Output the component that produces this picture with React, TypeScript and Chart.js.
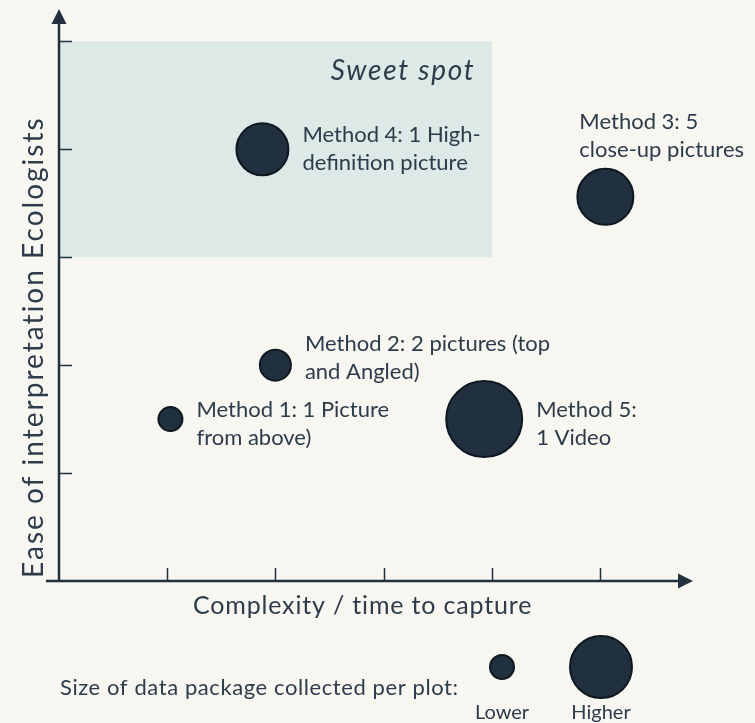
import React, { useEffect, useRef } from "react";
import { Chart, registerables } from "chart.js";

Chart.register(...registerables);

// Methods compared: complexity (x), ease of interpretation (y), size of data package (bubble radius)
const methodLabels: string[][] = [
  ["Method 1: 1 Picture", "from above)"],
  ["Method 2: 2 pictures (top", "and Angled)"],
  ["Method 3: 5", "close-up pictures"],
  ["Method 4: 1 High-", "definition picture"],
  ["Method 5:", "1 Video"],
];
const complexity = [1.03, 2.0, 5.05, 1.88, 3.93];
const ease = [1.5, 2.0, 3.56, 4.0, 1.5];
const packageSize = [12, 15.5, 28, 26, 38];
const labelPlacement = ["right", "right", "above", "right", "right"];
// small vertical nudges (px) applied to each label block
const labelNudge = [5, -7, -2, 0, 5];

const xTicks = [1, 2, 3, 4, 5];
const yTicks = [1, 2, 3, 4, 5];
const xMax = 5.86;
const yMax = 5.3;

const sweetSpotX = [0, 4];
const sweetSpotY = [3, 5];
const sweetSpotLabel = "Sweet spot";

const xTitle = "Complexity / time to capture";
const yTitle = "Ease of interpretation Ecologists";

const legendTitle = "Size of data package collected per plot:";
const legendSizes = [12, 31];
const legendLabels = ["Lower", "Higher"];

const BG = "#f7f6f0";
const INK = "#22313f";
const TEXT = "#2d3b4a";
const BUBBLE = "#20303f";
const BUBBLE_EDGE = "#0f1820";
const SHADE = "#dce9e6";
const FONT = "Lato, 'Noto Sans', sans-serif";

// Draws text stretched with letter spacing so it spans the given width.
function spacedText(ctx: any, text: string, x: number, y: number, width: number) {
  ctx.letterSpacing = "0px";
  const w = ctx.measureText(text).width;
  const gap = Math.max(0, (width - w) / Math.max(1, text.length - 1));
  ctx.letterSpacing = `${gap.toFixed(2)}px`;
  ctx.fillText(text, x, y);
  ctx.letterSpacing = "0px";
}

const decor = {
  id: "decor",
  beforeDatasetsDraw(chart: any) {
    const { ctx, chartArea, scales } = chart;
    const x = scales.x;
    const y = scales.y;
    ctx.save();
    // sweet spot region
    const sx0 = x.getPixelForValue(sweetSpotX[0]);
    const sx1 = x.getPixelForValue(sweetSpotX[1]);
    const sy0 = y.getPixelForValue(sweetSpotY[1]);
    const sy1 = y.getPixelForValue(sweetSpotY[0]);
    ctx.fillStyle = SHADE;
    ctx.fillRect(sx0, sy0, sx1 - sx0, sy1 - sy0);
    ctx.fillStyle = TEXT;
    ctx.font = `italic 28px ${FONT}`;
    ctx.textAlign = "left";
    ctx.textBaseline = "alphabetic";
    spacedText(ctx, sweetSpotLabel, sx1 - 18 - 143, sy0 + 39, 143);

    // axes
    const ox = chartArea.left;
    const oy = chartArea.bottom;
    ctx.strokeStyle = INK;
    ctx.fillStyle = INK;
    ctx.lineWidth = 2.5;
    ctx.beginPath();
    ctx.moveTo(ox - 13, oy);
    ctx.lineTo(chartArea.right - 12, oy);
    ctx.moveTo(ox, oy + 1);
    ctx.lineTo(ox, chartArea.top + 12);
    ctx.stroke();
    // arrow heads
    ctx.beginPath();
    ctx.moveTo(chartArea.right, oy);
    ctx.lineTo(chartArea.right - 15, oy - 7.5);
    ctx.lineTo(chartArea.right - 15, oy + 7.5);
    ctx.closePath();
    ctx.fill();
    ctx.beginPath();
    ctx.moveTo(ox, chartArea.top);
    ctx.lineTo(ox - 7.5, chartArea.top + 15);
    ctx.lineTo(ox + 7.5, chartArea.top + 15);
    ctx.closePath();
    ctx.fill();
    // ticks
    ctx.lineWidth = 1.5;
    ctx.beginPath();
    xTicks.forEach((v) => {
      const px = Math.round(x.getPixelForValue(v)) + 0.5;
      ctx.moveTo(px, oy);
      ctx.lineTo(px, oy - 13);
    });
    yTicks.forEach((v) => {
      const py = Math.round(y.getPixelForValue(v)) + 0.5;
      ctx.moveTo(ox, py);
      ctx.lineTo(ox + 13, py);
    });
    ctx.stroke();

    // axis titles
    ctx.fillStyle = TEXT;
    ctx.font = `25px ${FONT}`;
    ctx.textAlign = "left";
    ctx.textBaseline = "alphabetic";
    spacedText(ctx, xTitle, 193, oy + 33, 339);
    ctx.save();
    ctx.translate(43, 578);
    ctx.rotate(-Math.PI / 2);
    ctx.font = `28px ${FONT}`;
    spacedText(ctx, yTitle, 0, 0, 460);
    ctx.restore();
    ctx.restore();
  },
  afterDatasetsDraw(chart: any) {
    const { ctx } = chart;
    const meta = chart.getDatasetMeta(0);
    ctx.save();
    ctx.fillStyle = TEXT;
    ctx.font = `22px ${FONT}`;
    ctx.textBaseline = "middle";
    ctx.textAlign = "left";
    const lh = 28;
    meta.data.forEach((pt: any, i: number) => {
      const r = packageSize[i];
      const lines = methodLabels[i];
      const dy = labelNudge[i];
      if (labelPlacement[i] === "above") {
        const lx = pt.x - r + 2;
        const lastY = pt.y - r - 17 + dy;
        lines.forEach((t, k) => ctx.fillText(t, lx, lastY - (lines.length - 1 - k) * lh));
      } else {
        const lx = pt.x + r + 14;
        const y0 = pt.y - ((lines.length - 1) * lh) / 2 + dy;
        lines.forEach((t, k) => ctx.fillText(t, lx, y0 + k * lh));
      }
    });

    // size legend
    ctx.font = `22px ${FONT}`;
    ctx.textAlign = "left";
    ctx.textBaseline = "alphabetic";
    spacedText(ctx, legendTitle, 60, 695, 398);
    const legendX = [502, 601];
    ctx.font = `20px ${FONT}`;
    ctx.textAlign = "center";
    ctx.textBaseline = "middle";
    legendSizes.forEach((r, k) => {
      ctx.beginPath();
      ctx.arc(legendX[k], 667, r, 0, Math.PI * 2);
      ctx.fillStyle = BUBBLE;
      ctx.fill();
      ctx.lineWidth = 2;
      ctx.strokeStyle = BUBBLE_EDGE;
      ctx.stroke();
      ctx.fillStyle = TEXT;
      ctx.fillText(legendLabels[k], legendX[k], 713);
    });
    ctx.restore();
  },
};

export default function App() {
  const ref = useRef<HTMLCanvasElement | null>(null);

  useEffect(() => {
    document.body.style.margin = "0";
    document.body.style.background = BG;
    const canvas = ref.current;
    if (!canvas) return;
    const chart = new Chart(canvas, {
      type: "bubble",
      data: {
        datasets: [
          {
            label: "Methods",
            data: complexity.map((c, i) => ({ x: c, y: ease[i], r: packageSize[i] })),
            backgroundColor: BUBBLE,
            borderColor: BUBBLE_EDGE,
            borderWidth: 2,
            clip: false as any,
          },
        ],
      },
      options: {
        responsive: false,
        animation: false,
        events: [],
        layout: { autoPadding: false, padding: { left: 59, right: 62, top: 9, bottom: 142 } },
        plugins: { legend: { display: false }, tooltip: { enabled: false } },
        scales: {
          x: { type: "linear", min: 0, max: xMax, display: false },
          y: { type: "linear", min: 0, max: yMax, display: false },
        },
      },
      plugins: [decor],
    });
    return () => chart.destroy();
  }, []);

  return (
    <div style={{ position: "fixed", left: 0, top: 0, width: 755, height: 723, background: BG }}>
      <canvas ref={ref} width={755} height={723} style={{ display: "block" }} />
    </div>
  );
}
